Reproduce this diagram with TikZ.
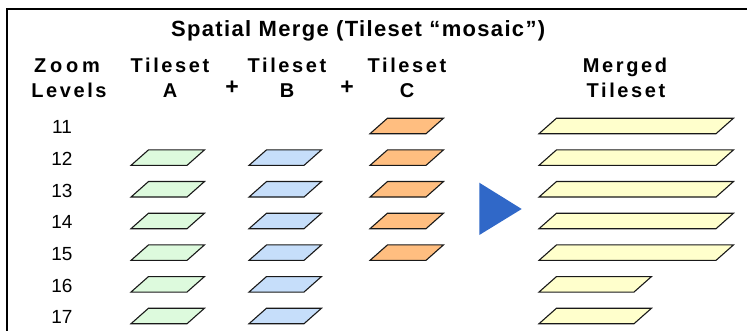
\documentclass[tikz,border=0pt]{standalone}
\usepackage{fontspec}
\setmainfont{Liberation Sans}
\newfontfamily\titlefont[LetterSpace=6]{Liberation Sans}
\newfontfamily\headfont[LetterSpace=13]{Liberation Sans}
\newfontfamily\zoomfont[LetterSpace=19]{Liberation Sans}
\definecolor{tgreen}{RGB}{221,250,221}
\definecolor{tblue}{RGB}{198,222,250}
\definecolor{torange}{RGB}{255,190,128}
\definecolor{tyellow}{RGB}{255,255,204}
\definecolor{tarrow}{RGB}{48,104,200}
\tikzset{
  tileline/.style={draw=black!90, line width=1.1pt, line join=miter},
  frameline/.style={draw=black, line width=1.4pt},
  pics/tile/.style args={#1/#2}{code={
    \path[tileline, fill=#2] (0,0) -- (#1,0) -- ({#1+17.5},-15.5) -- (17.5,-15.5) -- cycle;}},
  titletext/.style={inner sep=0pt, anchor=base west, font=\titlefont\bfseries\fontsize{22}{26}\selectfont},
  headtext/.style={inner sep=0pt, anchor=base, font=\headfont\bfseries\fontsize{20}{24}\selectfont},
  zoomtext/.style={inner sep=0pt, anchor=base, font=\zoomfont\bfseries\fontsize{20}{24}\selectfont},
  plustext/.style={inner sep=0pt, anchor=center, font=\bfseries\fontsize{23}{26}\selectfont},
  numtext/.style={inner sep=0pt, anchor=base, font=\fontsize{19}{22}\selectfont},
}
\begin{document}
\begin{tikzpicture}[x=1pt,y=-1pt]
\useasboundingbox (0,0) rectangle (747,330);
\begin{scope}
\clip (0,0) rectangle (747,330);
\coordinate (fr1) at (760,9);
\coordinate (fr2) at (7,9);
\coordinate (fr3) at (7,340);
\draw[frameline] (fr1) -- (fr2) -- (fr3);
\end{scope}
% title
\node[titletext] (title) at (171,36.7) {Spatial Merge (Tileset “mosaic”)};
% headers
\node[zoomtext] (h1a) at (67,72) {Zoom};
\node[headtext] (h1b) at (69,97) {Levels};
\node[headtext] (hAa) at (170,72) {Tileset};
\node[headtext] (hAb) at (170,97) {A};
\node[plustext] (p1) at (232,88) {+};
\node[headtext] (hBa) at (287,72) {Tileset};
\node[headtext] (hBb) at (287,97) {B};
\node[plustext] (p2) at (347,88) {+};
\node[headtext] (hCa) at (407,72) {Tileset};
\node[headtext] (hCb) at (407,97) {C};
\node[headtext] (hMa) at (625,72) {Merged};
\node[headtext] (hMb) at (626,97) {Tileset};
% zoom levels and tiles
\foreach \k/\z in {0/11,1/12,2/13,3/14,4/15,5/16,6/17}{
  \pgfmathsetmacro{\yb}{133.7+31.67*\k}
  \node[numtext] (z\z) at (62,\yb) {\z};
}
\foreach \k in {1,...,6}{
  \pgfmathsetmacro{\yb}{133.7+31.67*\k}
  \pic at (131,\yb) {tile={56/tgreen}};
  \pic at (249,\yb) {tile={55/tblue}};
}
\foreach \k in {0,...,4}{
  \pgfmathsetmacro{\yb}{133.7+31.67*\k}
  \pic at (370,\yb) {tile={56/torange}};
  \pic at (539,\yb) {tile={177/tyellow}};
}
\foreach \k in {5,6}{
  \pgfmathsetmacro{\yb}{133.7+31.67*\k}
  \pic at (539,\yb) {tile={95/tyellow}};
}
% arrow
\coordinate (ar1) at (479.3,182.7);
\coordinate (ar2) at (521.7,209);
\coordinate (ar3) at (479.3,235);
\fill[tarrow] (ar1) -- (ar2) -- (ar3) -- cycle;
\end{tikzpicture}
\end{document}
